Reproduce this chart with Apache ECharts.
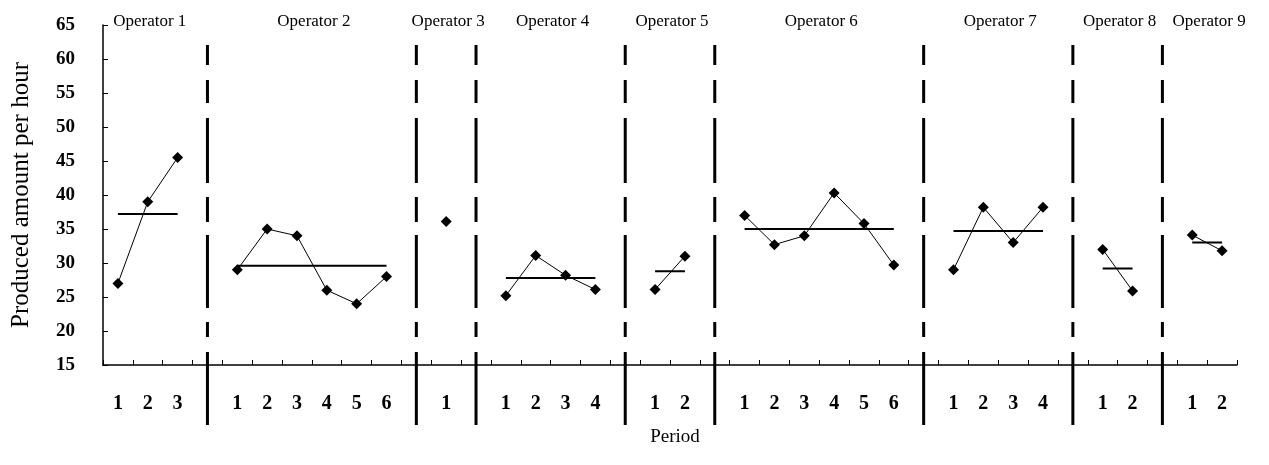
<!DOCTYPE html>
<html>
<head>
<meta charset="utf-8">
<script src="https://cdn.jsdelivr.net/npm/echarts@6/dist/echarts.min.js"></script>
<style>
html,body{margin:0;padding:0;background:#fff;}
#chart{width:1269px;height:465px;}
</style>
</head>
<body>
<div id="chart"></div>
<script>
// ---- data ----
const operatorNames = ['Operator 1','Operator 2','Operator 3','Operator 4','Operator 5','Operator 6','Operator 7','Operator 8','Operator 9'];
const op1 = [27, 39, 45.5];
const op2 = [29, 35, 34, 26, 24, 28];
const op3 = [36.1];
const op4 = [25.2, 31.1, 28.2, 26.1];
const op5 = [26.1, 31.0];
const op6 = [37, 32.7, 34, 40.3, 35.8, 29.7];
const op7 = [29, 38.2, 33, 38.2];
const op8 = [32, 25.9];
const op9 = [34.1, 31.8];
const operatorMeans = [37.2, 29.6, 36.1, 27.8, 28.8, 35.0, 34.7, 29.2, 33.0];
const yMin = 15, yMax = 65, yStep = 5;
const xTitle = 'Period';
const yTitle = 'Produced amount per hour';

// ---- build category axis ----
const operators = [op1, op2, op3, op4, op5, op6, op7, op8, op9];
const categories = [];
const values = [];
const means = [];
const separators = [];
const ranges = [];
operators.forEach((vals, k) => {
  const start = categories.length;
  vals.forEach((v, i) => {
    categories.push(String(i + 1));
    values.push(v);
    means.push(vals.length > 1 ? operatorMeans[k] : null);
  });
  ranges.push([start, categories.length - 1, yMax, k]);
  if (k < operators.length - 1) {
    separators.push([categories.length, yMax]);
    categories.push('');
    values.push(null);
    means.push(null);
  }
});

const FONT = '"Liberation Serif", "Times New Roman", serif';
const chart = echarts.init(document.getElementById('chart'), null, {renderer: 'canvas'});
chart.setOption({
  animation: false,
  backgroundColor: '#fff',
  grid: {left: 103, right: 32, top: 25, bottom: 100, containLabel: false},
  xAxis: {
    type: 'category',
    data: categories,
    boundaryGap: true,
    name: xTitle,
    nameLocation: 'middle',
    nameGap: 63,
    nameTextStyle: {fontFamily: FONT, fontSize: 19, color: '#000', padding: [0, 0, 0, 10]},
    axisLine: {lineStyle: {color: '#000', width: 1.5}},
    axisTick: {show: true, inside: true, length: 5, interval: 0, lineStyle: {color: '#000', width: 1}},
    axisLabel: {interval: 0, margin: 29, fontFamily: FONT, fontSize: 20, fontWeight: 'bold', color: '#000'},
    splitLine: {show: false}
  },
  yAxis: {
    type: 'value',
    min: yMin, max: yMax, interval: yStep,
    name: yTitle,
    nameLocation: 'middle',
    nameGap: 69,
    nameTextStyle: {fontFamily: FONT, fontSize: 25, color: '#000'},
    axisLine: {show: true, lineStyle: {color: '#000', width: 1.5}},
    axisTick: {show: true, inside: true, length: 5, lineStyle: {color: '#000'}},
    axisLabel: {margin: 28, fontFamily: FONT, fontSize: 19, fontWeight: 'bold', color: '#000'},
    splitLine: {show: false}
  },
  series: [
    {
      name: 'values', type: 'line', data: values, connectNulls: false,
      symbol: 'diamond', symbolSize: 11,
      itemStyle: {color: '#000'},
      lineStyle: {color: '#000', width: 1},
      z: 3
    },
    {
      name: 'mean', type: 'line', data: means, connectNulls: false,
      symbol: 'none',
      lineStyle: {color: '#000', width: 2},
      z: 2
    },
    {
      name: 'separators', type: 'custom', data: separators, clip: false,
      encode: {x: 0, y: 1},
      renderItem: function (params, api) {
        const top = api.coord([api.value(0), yMax]);
        const bot = api.coord([api.value(0), yMin]);
        return {
          type: 'line',
          shape: {x1: top[0], y1: top[1] + 20, x2: bot[0], y2: bot[1] + 60},
          style: {stroke: '#000', lineWidth: 3, lineDash: [20,15,23,15,65,14,25,13,73,14,15,15,80]}
        };
      },
      z: 1
    },
    {
      name: 'labels', type: 'custom', data: ranges, clip: false,
      encode: {x: [0, 1], y: 2},
      renderItem: function (params, api) {
        const a = api.coord([api.value(0), yMax]);
        const b = api.coord([api.value(1), yMax]);
        return {
          type: 'text',
          x: (a[0] + b[0]) / 2 + 2,
          y: a[1] - 3,
          style: {text: operatorNames[api.value(3)], fill: '#000', fontFamily: FONT, fontSize: 17, align: 'center', verticalAlign: 'middle'}
        };
      },
      z: 4
    }
  ]
});
</script>
</body>
</html>
